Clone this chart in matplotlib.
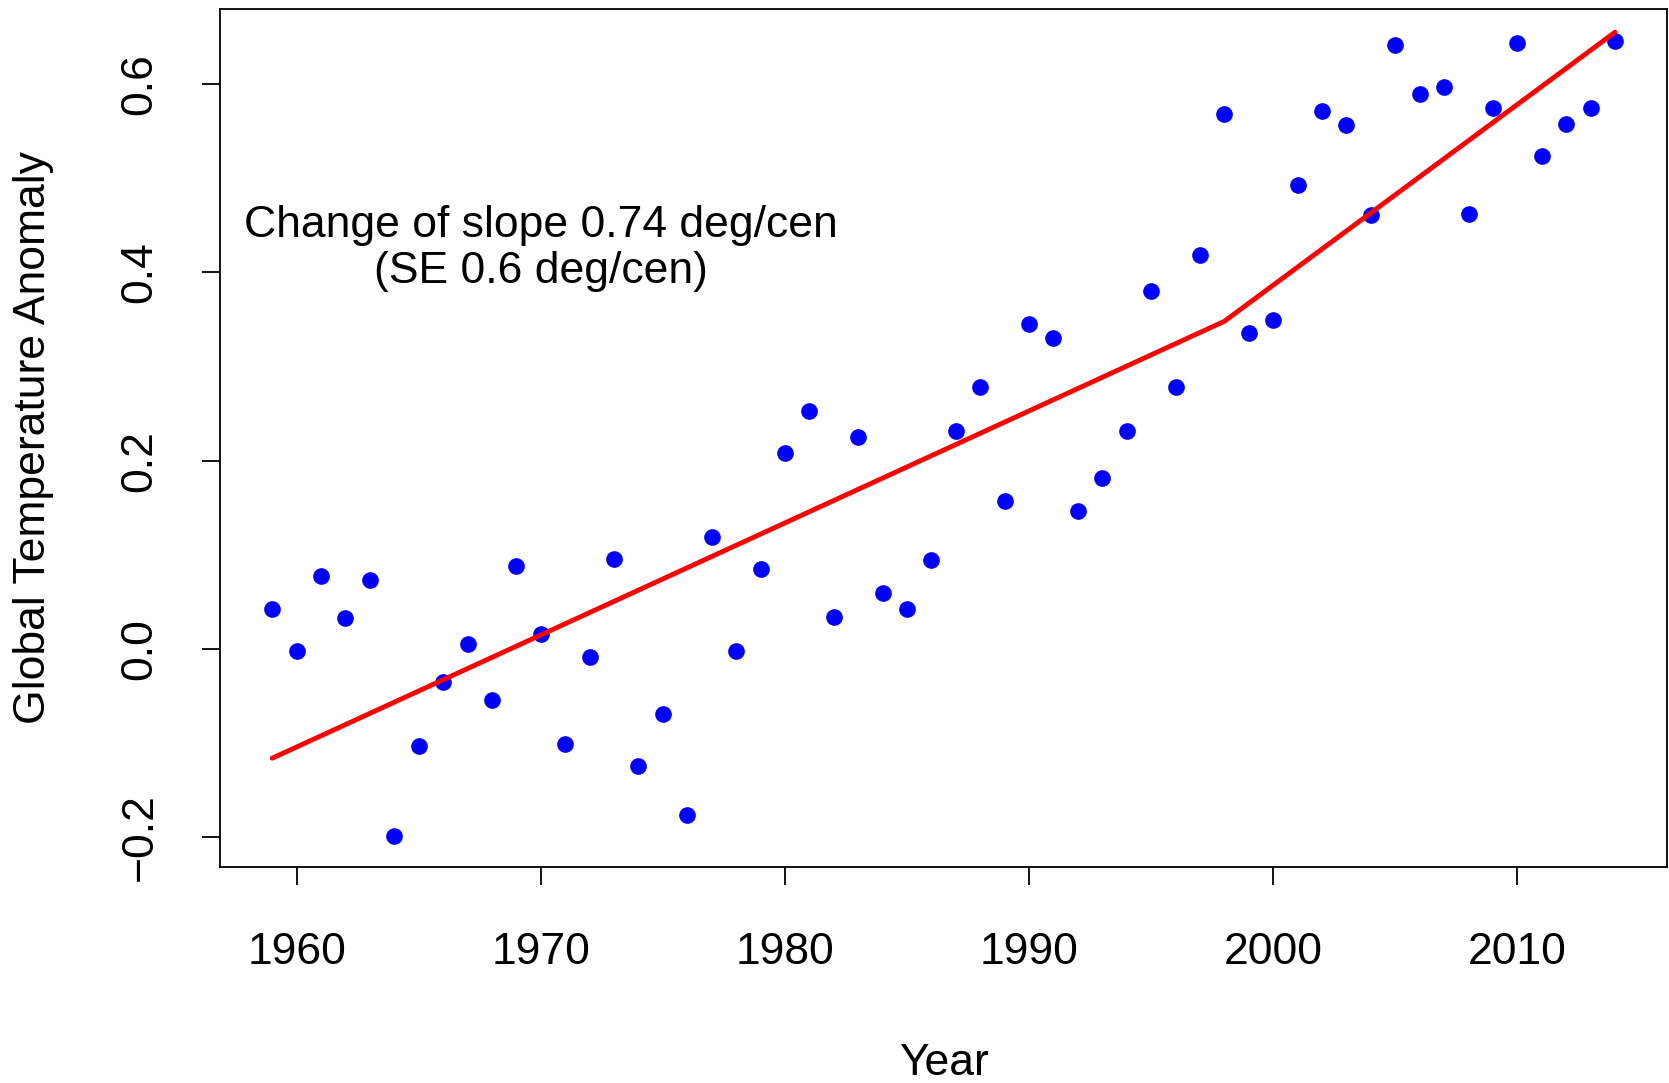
import matplotlib
matplotlib.use("Agg")
import matplotlib.pyplot as plt

# Anomalías anuales
years = list(range(1959, 2015))
anomaly = [
    0.042, -0.002, 0.077, 0.033, 0.073, -0.199, -0.103, -0.035, 0.005, -0.054,
    0.088, 0.016, -0.101, -0.008, 0.096, -0.124, -0.069, -0.176, 0.119, -0.002,
    0.085, 0.208, 0.253, 0.034, 0.225, 0.059, 0.042, 0.094, 0.232, 0.278,
    0.157, 0.345, 0.330, 0.147, 0.182, 0.232, 0.380, 0.278, 0.418, 0.568,
    0.336, 0.349, 0.493, 0.571, 0.556, 0.461, 0.641, 0.589, 0.597, 0.462,
    0.575, 0.644, 0.524, 0.557, 0.575, 0.646,
]

# Ajuste lineal por tramos (quiebre en 1998)
fit_years = [1959, 1998, 2014]
fit_values = [-0.116, 0.348, 0.655]

x_ticks = [1960, 1970, 1980, 1990, 2000, 2010]
y_ticks = [-0.2, 0.0, 0.2, 0.4, 0.6]
y_ticklabels = ["\u22120.2", "0.0", "0.2", "0.4", "0.6"]

note = "Change of slope 0.74 deg/cen\n(SE 0.6 deg/cen)"

plt.rcParams["font.family"] = ["Liberation Sans", "DejaVu Sans"]

fig = plt.figure(figsize=(16.69, 10.83), dpi=100)
ax = fig.add_axes([0.1318, 0.1994, 0.867, 0.7926])

ax.plot(years, anomaly, "o", color="#0000ff", markersize=12, markeredgewidth=0)
ax.plot(fit_years, fit_values, color="#ff0000", linewidth=3.5, solid_capstyle="round")

ax.text(1970, 0.425, note, ha="center", va="center", fontsize=32, linespacing=1.17)

ax.set_xlim(1956.86, 2016.13)
ax.set_ylim(-0.2316, 0.680)
ax.set_xticks(x_ticks)
ax.set_yticks(y_ticks)
ax.set_yticklabels(y_ticklabels, rotation=90, va="center")

ax.tick_params(axis="both", direction="out", length=13, width=1.3, labelsize=32)
ax.tick_params(axis="x", pad=34)
ax.tick_params(axis="y", pad=30)
for s in ax.spines.values():
    s.set_linewidth(1.3)

ax.set_xlabel("Year", fontsize=32, labelpad=50)
ax.set_ylabel("Global Temperature Anomaly", fontsize=32, labelpad=47)

fig.savefig("out.png", dpi=100)
